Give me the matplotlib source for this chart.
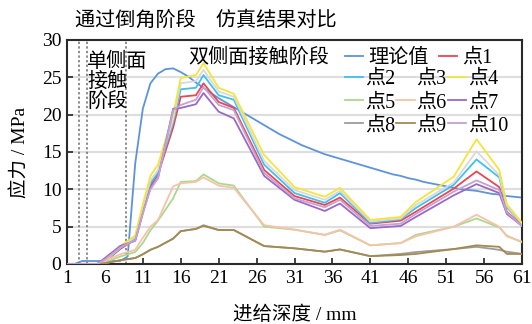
import matplotlib
matplotlib.use("Agg")
import matplotlib.pyplot as plt

plt.rcParams['font.family'] = ['Liberation Serif', 'Noto Sans CJK SC']
plt.rcParams['axes.unicode_minus'] = False

# theoretical stress curve (integer feed depths)
depth_theory = list(range(1, 62))
stress_theory = [0, 0, 0.4, 0.4, 0.4, 0.4, 0.4, 0.4, 1.0, 13.5,
                 20.8, 24.2, 25.5, 26.1, 26.2, 25.7, 25.1, 24.3, 23.6, 22.9,
                 22.2, 21.6, 21.0, 20.4, 19.8, 19.2, 18.6, 18.0, 17.4, 16.9,
                 16.4, 15.9, 15.5, 15.1, 14.7, 14.4, 14.1, 13.8, 13.5, 13.2,
                 12.9, 12.6, 12.3, 12.0, 11.8, 11.5, 11.3, 11.0, 10.8, 10.6,
                 10.4, 10.2, 10.0, 9.9, 9.8, 9.6, 9.4, 9.3, 9.1, 9.0, 8.9]

# simulated stress at the monitored points
depth_sim = [1, 5, 6, 8, 10, 11, 12, 13, 15, 16, 18, 19, 21, 23, 27, 31,
             35, 37, 41, 45, 47, 52, 55, 58, 59, 61]
p1 = [0, 0, 0.3, 2.0, 3.3, 7.0, 10.5, 12.0, 18.3, 22.4, 22.6, 24.2, 21.7, 20.9,
      12.6, 9.1, 7.9, 8.9, 5.4, 5.8, 7.0, 10.1, 12.4, 10.3, 7.0, 5.2]
p2 = [0, 0, 0.4, 2.1, 3.5, 7.3, 10.8, 12.2, 19.0, 23.4, 23.6, 25.3, 22.6, 22.0,
      13.3, 9.5, 8.2, 9.5, 5.5, 6.0, 7.5, 10.6, 14.0, 11.6, 7.6, 5.4]
p3 = [0, 0, 0.4, 2.2, 3.6, 7.6, 11.2, 12.6, 19.4, 24.2, 24.5, 26.0, 23.1, 22.4,
      13.8, 9.9, 8.6, 9.8, 5.7, 6.1, 7.9, 10.9, 15.1, 11.9, 7.8, 5.4]
p4 = [0, 0, 0.4, 2.4, 3.8, 8.0, 11.8, 13.3, 20.0, 24.9, 25.3, 26.9, 23.6, 22.8,
      14.6, 10.3, 9.0, 10.2, 5.9, 6.3, 8.3, 11.7, 16.7, 12.6, 8.0, 5.5]
p5 = [0, 0, 0.2, 1.0, 1.6, 2.8, 4.5, 5.8, 8.8, 11.0, 11.1, 12.0, 10.8, 10.5,
      5.0, 4.6, 3.9, 4.5, 2.5, 2.8, 3.9, 5.0, 6.1, 4.9, 3.8, 2.9]
p6 = [0, 0, 0.4, 1.3, 1.9, 3.5, 5.0, 5.9, 10.4, 10.8, 11.0, 11.6, 10.5, 10.2,
      5.2, 4.6, 3.9, 4.6, 2.5, 2.8, 3.7, 5.0, 6.6, 5.0, 3.7, 3.0]
p7 = [0, 0, 0.8, 2.4, 3.1, 6.8, 10.2, 11.5, 20.8, 20.9, 21.4, 22.9, 20.4, 19.5,
      11.8, 8.6, 7.1, 8.1, 4.8, 5.1, 6.3, 9.2, 10.7, 9.5, 6.7, 5.1]
p8 = [0, 0, 0.1, 0.5, 0.8, 1.3, 1.9, 2.3, 3.4, 4.4, 4.7, 5.2, 4.55, 4.55,
      2.4, 2.1, 1.65, 1.95, 1.05, 1.35, 1.6, 2.0, 2.3, 1.9, 1.65, 1.35]
p9 = [0, 0, 0.1, 0.5, 0.8, 1.3, 1.9, 2.3, 3.4, 4.4, 4.7, 5.1, 4.55, 4.55,
      2.4, 2.1, 1.65, 1.95, 1.05, 1.2, 1.35, 2.0, 2.5, 2.3, 1.35, 1.35]
p10 = [0, 0, 0.6, 2.2, 3.2, 6.8, 10.0, 11.5, 20.6, 21.3, 22.0, 23.7, 21.3, 20.6,
       12.2, 8.8, 7.6, 8.6, 5.1, 5.4, 6.7, 9.7, 11.2, 9.9, 6.9, 5.1]

point_labels = ["点1", "点2", "点3", "点4", "点5", "点6", "点7", "点8", "点9", "点10"]
point_values = [p1, p2, p3, p4, p5, p6, p7, p8, p9, p10]
point_colors = ["#EE4452", "#3EC0F0", "#D9D9D9", "#F4E43C", "#A9D98E",
                "#F8C2AA", "#9A68C6", "#9C9C9C", "#A48A50", "#C2A3D3"]

# stage boundaries (feed depth, mm)
stage_bounds = [2.6, 3.7, 8.75]

x_ticks = [1, 6, 11, 16, 21, 26, 31, 36, 41, 46, 51, 56, 61]
y_ticks = [0, 5, 10, 15, 20, 25, 30]

fig = plt.figure(figsize=(5.32, 3.24), dpi=100)
ax = fig.add_axes([67 / 532, 1 - 264 / 324, 455 / 532, 224 / 324])

for yv in y_ticks[1:-1]:
    ax.axhline(yv, color="#DEDEDE", lw=1.5, zorder=0)

for xb in stage_bounds:
    ax.axvline(xb, color="#6E6E6E", lw=1.1, ls=(0, (1.5, 1.5)), zorder=1)

lw = 1.3
h_theory, = ax.plot(depth_theory, stress_theory, color="#5E93DC", lw=lw, zorder=2)
handles = []
for lab, vals, col in zip(point_labels, point_values, point_colors):
    h, = ax.plot(depth_sim, vals, color=col, lw=lw, zorder=3)
    handles.append(h)

ax.set_xlim(1, 61)
ax.set_ylim(0, 30)
ax.set_xticks(x_ticks)
ax.set_yticks(y_ticks)
ax.tick_params(direction="in", length=4, width=1.2, labelsize=14, pad=4,
               color="#222222")
for s in ax.spines.values():
    s.set_linewidth(1.5)
    s.set_color("#2A2A2A")

ax.set_xlabel("进给深度 / mm", fontsize=14, labelpad=14)
ax.set_ylabel("应力 / MPa", fontsize=14, labelpad=9)

fig.text(75 / 532, 1 - 21 / 324, "通过倒角阶段　仿真结果对比", fontsize=14.5,
         ha="left", va="center")
ax.text(3.65, 28.3, "单侧面\n接触\n阶段", fontsize=14.5, ha="left", va="top",
        linespacing=1.05)
ax.text(17.0, 27.6, "双侧面接触阶段", fontsize=14.5, ha="left", va="center")

leg_kw = dict(frameon=False, fontsize=14.5, handlelength=0.9,
              borderpad=0, borderaxespad=0, bbox_transform=fig.transFigure,
              loc="upper left")
leg1 = fig.legend([h_theory, handles[0]], ["理论值", "点1"], ncol=2,
                  handletextpad=0.25, columnspacing=0.5,
                  bbox_to_anchor=(345 / 532, 1 - 49 / 324), **leg_kw)
order = [1, 4, 7, 2, 5, 8, 3, 6, 9]
leg2 = fig.legend([handles[i] for i in order], [point_labels[i] for i in order],
                  ncol=3, handletextpad=0.1, columnspacing=0.05,
                  labelspacing=0.2,
                  bbox_to_anchor=(345 / 532, 1 - 70 / 324), **leg_kw)

fig.savefig("out.png", dpi=100)
